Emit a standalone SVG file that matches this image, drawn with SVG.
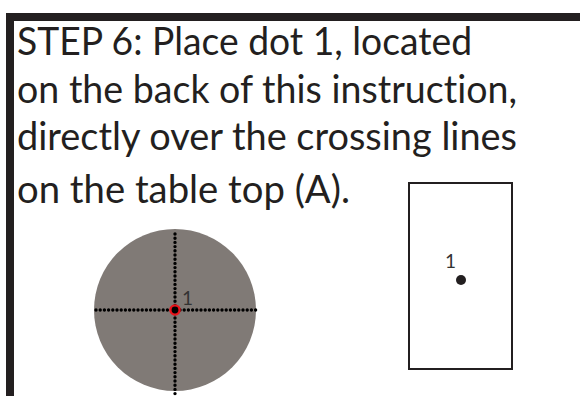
<svg xmlns="http://www.w3.org/2000/svg" width="580" height="396" viewBox="0 0 580 396">
  <defs>
    <style>
      .frame { fill: #231f20; }
      .title { font-family: Lato, "Open Sans", "Liberation Sans", sans-serif; font-size: 39px; fill: #231f20; font-variant-ligatures: none; font-feature-settings: "liga" 0; }
      .num { font-family: Lato, "Open Sans", "Liberation Sans", sans-serif; font-size: 19px; fill: #333; }
      .dotted { stroke: #000; stroke-width: 3.4; stroke-linecap: round; stroke-dasharray: 0 4.2; fill: none; }
    </style>
  </defs>
  <rect width="580" height="396" fill="#fff"/>
  <g id="frame">
    <rect class="frame" x="6" y="13" width="574" height="8"/>
    <rect class="frame" x="6" y="13" width="8" height="383"/>
  </g>
  <g id="instruction-text">
    <text class="title" x="17" y="55" textLength="455" lengthAdjust="spacingAndGlyphs">STEP 6: Place dot 1, located</text>
    <text class="title" x="17" y="103" textLength="500" lengthAdjust="spacingAndGlyphs">on the back of this instruction,</text>
    <text class="title" x="17" y="150" textLength="500" lengthAdjust="spacingAndGlyphs">directly over the crossing lines</text>
    <text class="title" x="17" y="203" textLength="333" lengthAdjust="spacingAndGlyphs">on the table top (A).</text>
  </g>
  <g id="table-top">
    <circle cx="175" cy="310" r="81" fill="#807a76"/>
    <line class="dotted" x1="96" y1="310" x2="256" y2="310"/>
    <line class="dotted" x1="175" y1="234" x2="175" y2="398"/>
    <circle cx="175" cy="310" r="4.6" fill="#000" stroke="#e8141b" stroke-width="2.4"/>
    <text class="num" x="182" y="305">1</text>
  </g>
  <g id="instruction-sheet">
    <rect x="409" y="183" width="103" height="186" fill="#fff" stroke="#231f20" stroke-width="2"/>
    <circle cx="461" cy="280" r="5" fill="#231f20"/>
    <text class="num" x="445" y="268">1</text>
  </g>
</svg>
